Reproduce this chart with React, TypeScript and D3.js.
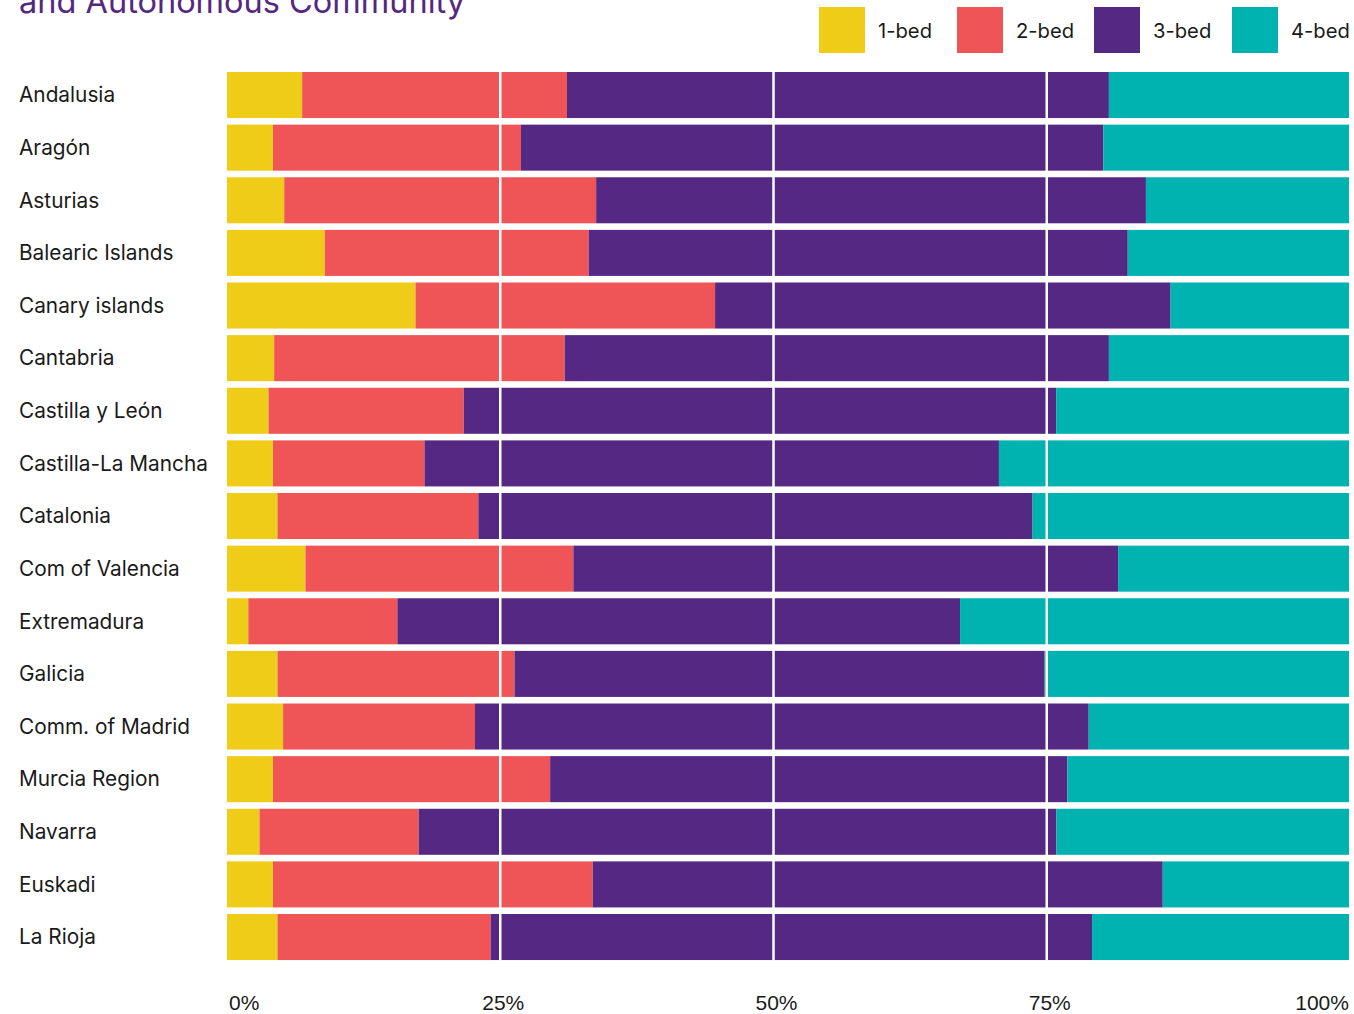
import React from "react";
import * as d3 from "d3";

const regions = [
  "Andalusia", "Aragón", "Asturias", "Balearic Islands", "Canary islands", "Cantabria",
  "Castilla y León", "Castilla-La Mancha", "Catalonia", "Com of Valencia", "Extremadura",
  "Galicia", "Comm. of Madrid", "Murcia Region", "Navarra", "Euskadi", "La Rioja",
];
const series = ["1-bed", "2-bed", "3-bed", "4-bed"];
const bed1 = [6.7, 4.1, 5.1, 8.7, 16.8, 4.2, 3.7, 4.1, 4.5, 7.0, 1.9, 4.5, 5.0, 4.1, 2.9, 4.1, 4.5];
const bed2 = [23.6, 22.1, 27.8, 23.5, 26.7, 25.9, 17.4, 13.5, 17.9, 23.9, 13.3, 21.1, 17.1, 24.7, 14.2, 28.5, 19.0];
const bed3 = [48.3, 51.9, 49.0, 48.0, 40.6, 48.5, 52.8, 51.2, 49.4, 48.6, 50.2, 47.2, 54.7, 46.1, 56.9, 50.8, 53.6];
const bed4 = [21.4, 21.9, 18.1, 19.7, 15.9, 21.4, 26.1, 31.2, 28.2, 20.6, 34.7, 27.1, 23.2, 25.1, 26.1, 16.6, 22.9];
const gridTicks = [25, 50, 75];
const axisTicks = [0, 25, 50, 75, 100];
const colors = ["#EFCC18", "#EF5457", "#542883", "#00B2B0"];

const W = 1354;
const H = 1014;

export default function App() {
  const rows = regions.map((r, i) => ({
    region: r,
    "1-bed": bed1[i],
    "2-bed": bed2[i],
    "3-bed": bed3[i],
    "4-bed": bed4[i],
  }));
  const norm = rows.map((r) => {
    const tot = series.reduce((s, k) => s + (r as any)[k], 0);
    const o: any = { region: r.region };
    series.forEach((k) => (o[k] = ((r as any)[k] / tot) * 100));
    return o;
  });
  const stack = d3.stack<any>().keys(series)(norm);
  const x = d3.scaleLinear().domain([0, 100]).range([227, 1349]);
  const xTick = d3.scaleLinear().domain([0, 100]).range([227, 1320]);
  const y = d3
    .scaleBand<string>()
    .domain(regions)
    .range([72, 960.05])
    .paddingInner(0.125)
    .paddingOuter(0);
  const color = d3.scaleOrdinal<string, string>().domain(series).range(colors);

  const legendX = [819, 957, 1094, 1232];
  const font = "Inter, 'Noto Sans', sans-serif";

  return (
    <svg
      width={W}
      height={H}
      style={{ position: "absolute", left: 0, top: 0, background: "#fff" }}
      fontFamily={font}
    >
      <text x={19} y={13} fill="#54287f" fontSize={32.5} fontFamily={font}>
        and Autonomous Community
      </text>
      {series.map((s, i) => (
        <g key={s}>
          <rect x={legendX[i]} y={7} width={46} height={46} fill={color(s)} />
          <text x={legendX[i] + 59} y={38} fontSize={20.2} fill="#1a1a1a">
            {s}
          </text>
        </g>
      ))}
      {stack.map((layer) => (
        <g key={layer.key} fill={color(layer.key)}>
          {layer.map((d: any) => (
            <rect
              key={d.data.region}
              x={x(d[0])}
              y={y(d.data.region)}
              width={x(d[1]) - x(d[0])}
              height={y.bandwidth()}
            />
          ))}
        </g>
      ))}
      {gridTicks.map((t) => (
        <line
          key={t}
          x1={xTick(t)}
          x2={xTick(t)}
          y1={72}
          y2={960}
          stroke="#fff"
          strokeWidth={2.5}
        />
      ))}
      {regions.map((r) => (
        <text
          key={r}
          x={19}
          y={(y(r) as number) + y.bandwidth() / 2}
          dy="0.35em"
          fontSize={20.8}
          fill="#1a1a1a"
        >
          {r}
        </text>
      ))}
      {axisTicks.map((t, i) => (
        <text
          key={t}
          x={i === 0 ? 229 : i === axisTicks.length - 1 ? 1349 : xTick(t) + 3}
          y={1010}
          textAnchor={i === 0 ? "start" : i === axisTicks.length - 1 ? "end" : "middle"}
          fontSize={21}
          fontFamily="'Liberation Sans Narrow', 'Liberation Sans', sans-serif"
          fill="#1a1a1a"
        >
          {t}%
        </text>
      ))}
    </svg>
  );
}
